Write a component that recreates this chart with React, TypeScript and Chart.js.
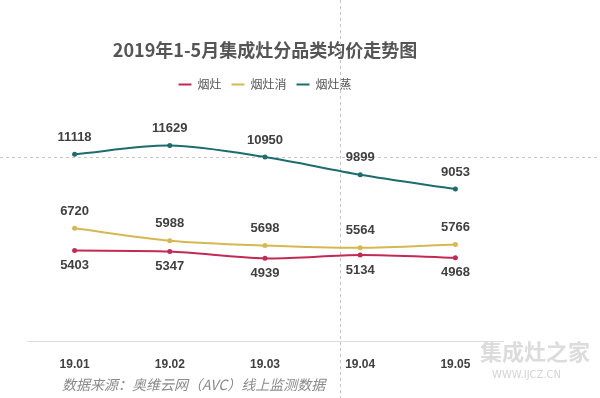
import React, { useEffect, useRef } from "react";
import { Chart, registerables } from "chart.js";

Chart.register(...registerables);

const categories = ["19.01", "19.02", "19.03", "19.04", "19.05"];
const seriesNames = ["烟灶", "烟灶消", "烟灶蒸"];
const yanzao = [5403, 5347, 4939, 5134, 4968];
const yanzaoxiao = [6720, 5988, 5698, 5564, 5766];
const yanzaozheng = [11118, 11629, 10950, 9899, 9053];
const titleText = "2019年1-5月集成灶分品类均价走势图";
const sourceText = "数据来源：奥维云网（AVC）线上监测数据";

const FONT = '"Liberation Sans", "Noto Sans CJK SC", sans-serif';

const decorPlugin = {
  id: "decor",
  beforeDatasetsDraw(chart: any) {
    const ctx = chart.ctx;
    ctx.save();
    ctx.strokeStyle = "#c4c4c4";
    ctx.lineWidth = 1;
    ctx.setLineDash([3, 3]);
    ctx.beginPath();
    ctx.moveTo(0, 157.5);
    ctx.lineTo(600, 157.5);
    ctx.moveTo(340.5, 0);
    ctx.lineTo(340.5, 398);
    ctx.stroke();
    ctx.restore();
  },
  afterDatasetsDraw(chart: any) {
    const ctx = chart.ctx;
    ctx.save();
    ctx.font = "bold 13px " + FONT;
    ctx.fillStyle = "#404040";
    ctx.textAlign = "center";
    ctx.textBaseline = "middle";
    chart.data.datasets.forEach((ds: any, i: number) => {
      const meta = chart.getDatasetMeta(i);
      const off = ds.labelOffset;
      meta.data.forEach((pt: any, j: number) => {
        ctx.fillText(String(ds.data[j]), pt.x, pt.y + off);
      });
    });
    ctx.restore();
  },
  afterDraw(chart: any) {
    const ctx = chart.ctx;
    ctx.save();
    ctx.font = 'italic 14px "Noto Sans CJK SC", sans-serif';
    ctx.fillStyle = "#8a8a8a";
    ctx.textAlign = "left";
    ctx.textBaseline = "middle";
    ctx.fillText(sourceText, 62, 385);
    ctx.font = 'bold 22px "Noto Sans CJK SC", sans-serif';
    ctx.fillStyle = "#dcdcdc";
    ctx.fillText("集成灶之家", 480, 352);
    ctx.font = '10px "DejaVu Sans", sans-serif';
    ctx.fillStyle = "#d4d4d4";
    ctx.fillText("WWW.IJCZ.CN", 492, 375);
    ctx.restore();
  },
};

export default function App() {
  const ref = useRef<HTMLCanvasElement>(null);
  useEffect(() => {
    if (!ref.current) return;
    Chart.defaults.font.family = FONT;
    const chart = new Chart(ref.current, {
      type: "line",
      data: {
        labels: categories,
        datasets: [
          { label: seriesNames[0], data: yanzao, borderColor: "#c22a55", backgroundColor: "#c22a55", labelOffset: 15 } as any,
          { label: seriesNames[1], data: yanzaoxiao, borderColor: "#d6b852", backgroundColor: "#d6b852", labelOffset: -17 } as any,
          { label: seriesNames[2], data: yanzaozheng, borderColor: "#1d6c6e", backgroundColor: "#1d6c6e", labelOffset: -17 } as any,
        ],
      },
      options: {
        animation: false,
        responsive: false,
        maintainAspectRatio: false,
        elements: {
          line: { borderWidth: 2, tension: 0.3 },
          point: { radius: 2.5, borderWidth: 0, hoverRadius: 2.5 },
        },
        layout: { padding: { left: 27, right: 97, bottom: 18, top: 0 } },
        plugins: {
          title: {
            display: true,
            text: titleText,
            fullSize: false,
            color: "#555555",
            font: { size: 18, weight: "bold", family: '"Noto Sans CJK SC", sans-serif' },
            padding: { top: 39, bottom: 8 },
          },
          legend: {
            display: true,
            fullSize: false,
            labels: {
              color: "#555555",
              font: { size: 12, family: '"Noto Sans CJK SC", sans-serif' },
              usePointStyle: true,
              pointStyle: "line",
              pointStyleWidth: 13,
              boxHeight: 12,
              padding: 10,
              generateLabels(chart: any) {
                return chart.data.datasets.map((ds: any, i: number) => ({
                  text: ds.label,
                  fillStyle: ds.borderColor,
                  strokeStyle: ds.borderColor,
                  fontColor: "#555555",
                  lineWidth: 2,
                  pointStyle: "line",
                  hidden: false,
                  datasetIndex: i,
                }));
              },
            },
          },
          tooltip: { enabled: false },
        },
        scales: {
          x: {
            offset: true,
            grid: { display: false },
            border: { display: true, color: "#dddddd" },
            ticks: { color: "#404040", font: { size: 12, weight: "bold" }, padding: 8 },
          },
          y: {
            display: false,
            min: 0,
            max: 14300,
          },
        },
      },
      plugins: [decorPlugin],
    });
    return () => chart.destroy();
  }, []);
  return (
    <div style={{ position: "fixed", left: 0, top: 0, width: 600, height: 398, background: "#fff" }}>
      <canvas ref={ref} width={600} height={398} style={{ width: 600, height: 398 }} />
    </div>
  );
}
